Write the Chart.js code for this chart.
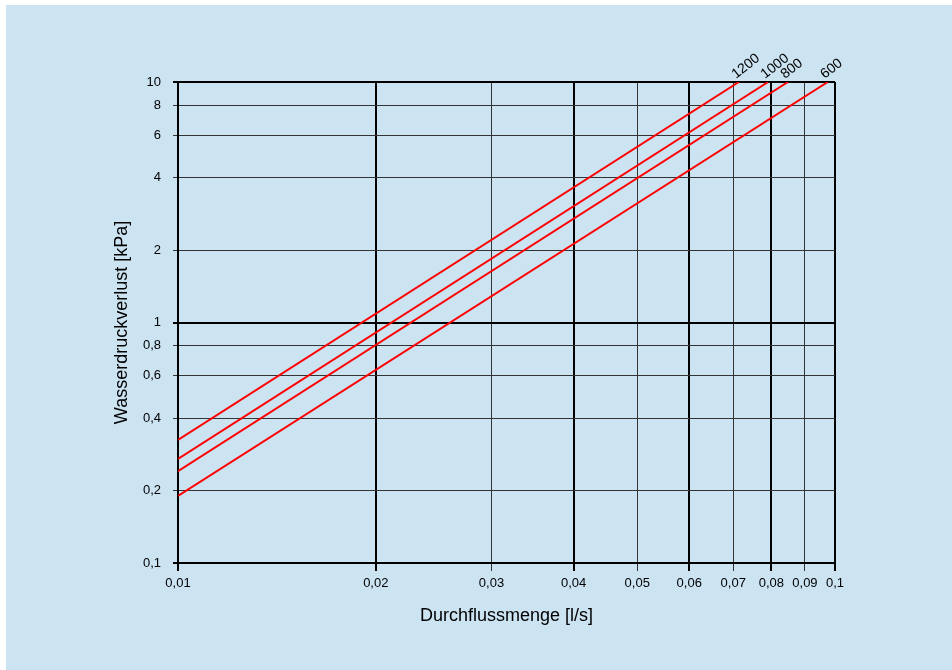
<!DOCTYPE html>
<html>
<head>
<meta charset="utf-8">
<script src="https://cdn.jsdelivr.net/npm/chart.js@4"></script>
<style>
  html, body { margin: 0; padding: 0; background: #fff; }
  canvas { display: block; }
</style>
</head>
<body>
<canvas id="pressureChart" width="952" height="670"></canvas>
<script>
// Wasserdruckverlust vs. Durchflussmenge (log/log)

const SERIES_LABELS = ['1200', '1000', '800', '600'];
const FLOW_START = 0.01;                       // l/s, left edge of every line
const PRESSURE_AT_START = [0.325, 0.271, 0.241, 0.19];   // kPa at 0,01 l/s
const PRESSURE_END = 10;                       // kPa, every line runs up to the top
const FLOW_AT_END = [0.0714, 0.0791, 0.0848, 0.0975];    // l/s where each reaches 10 kPa

const X_TICKS = [0.01, 0.02, 0.03, 0.04, 0.05, 0.06, 0.07, 0.08, 0.09, 0.1];
const Y_TICKS = [0.1, 0.2, 0.4, 0.6, 0.8, 1, 2, 4, 6, 8, 10];

const X_MAJOR = [0.01, 0.02, 0.04, 0.06, 0.08, 0.1];
const Y_MAJOR = [0.1, 1, 10];

const FONT = '"Liberation Sans", Arial, sans-serif';

function isMajor(list, v) {
    return list.some(m => Math.abs(m - v) < 1e-9);
}

function fmtComma(v) {
    return String(+v.toPrecision(6)).replace('.', ',');
}

const backgroundPanel = {
    id: 'backgroundPanel',
    beforeDraw(chart) {
        const c = chart.ctx;
        c.save();
        c.fillStyle = '#ffffff';
        c.fillRect(0, 0, chart.width, chart.height);
        c.fillStyle = '#cce3f2';
        c.fillRect(6, 5, chart.width - 6, chart.height - 5);
        c.restore();
    }
};

const lineEndLabels = {
    id: 'lineEndLabels',
    afterDatasetsDraw(chart) {
        const c = chart.ctx;
        const xs = chart.scales.x, ys = chart.scales.y;
        c.save();
        c.font = '14px ' + FONT;
        c.fillStyle = '#000';
        c.textAlign = 'left';
        c.textBaseline = 'alphabetic';
        chart.data.datasets.forEach(ds => {
            const last = ds.data[ds.data.length - 1];
            const px = xs.getPixelForValue(last.x);
            const py = ys.getPixelForValue(last.y);
            c.save();
            c.translate(px - 3, py - 3);
            c.rotate(-38 * Math.PI / 180);
            c.fillText(ds.label, 0, 0);
            c.restore();
        });
        c.restore();
    }
};

const datasets = SERIES_LABELS.map((label, i) => ({
    label: label,
    data: [
        { x: FLOW_START, y: PRESSURE_AT_START[i] },
        { x: FLOW_AT_END[i], y: PRESSURE_END }
    ],
    borderColor: '#ff0000',
    borderWidth: 2,
    pointRadius: 0,
    fill: false,
    tension: 0
}));

const ctx = document.getElementById('pressureChart').getContext('2d');

new Chart(ctx, {
    type: 'line',
    data: { datasets },
    options: {
        responsive: false,
        animation: false,
        devicePixelRatio: 1,
        layout: {
            padding: { left: 111, top: 82, right: 117, bottom: 43 }
        },
        plugins: {
            legend: { display: false },
            tooltip: { enabled: false }
        },
        scales: {
            x: {
                type: 'logarithmic',
                position: 'bottom',
                min: 0.01,
                max: 0.1,
                afterBuildTicks: scale => { scale.ticks = X_TICKS.map(v => ({ value: v })); },
                afterFit: scale => { scale.height = 64; },
                ticks: {
                    autoSkip: false,
                    maxRotation: 0,
                    padding: 5,
                    color: '#000',
                    font: { family: FONT, size: 13 },
                    callback: v => fmtComma(v)
                },
                grid: {
                    color: c => isMajor(X_MAJOR, c.tick.value) ? '#000' : '#333',
                    lineWidth: c => isMajor(X_MAJOR, c.tick.value) ? 2 : 1,
                    tickLength: 8
                },
                border: { display: true, color: '#000', width: 2 },
                title: {
                    display: true,
                    text: 'Durchflussmenge [l/s]',
                    color: '#000',
                    padding: 0,
                    font: { family: FONT, size: 18 }
                }
            },
            y: {
                type: 'logarithmic',
                position: 'left',
                min: 0.1,
                max: 10,
                afterBuildTicks: scale => { scale.ticks = Y_TICKS.map(v => ({ value: v })); },
                afterFit: scale => { scale.width = 67; },
                ticks: {
                    autoSkip: false,
                    padding: 12,
                    color: '#000',
                    font: { family: FONT, size: 13 },
                    callback: v => fmtComma(v)
                },
                grid: {
                    color: c => isMajor(Y_MAJOR, c.tick.value) ? '#000' : '#333',
                    lineWidth: c => isMajor(Y_MAJOR, c.tick.value) ? 2 : 1,
                    tickLength: 5
                },
                border: { display: true, color: '#000', width: 2 },
                title: {
                    display: true,
                    text: 'Wasserdruckverlust [kPa]',
                    color: '#000',
                    padding: 0,
                    font: { family: FONT, size: 18 }
                }
            }
        }
    },
    plugins: [backgroundPanel, lineEndLabels]
});
</script>
</body>
</html>
